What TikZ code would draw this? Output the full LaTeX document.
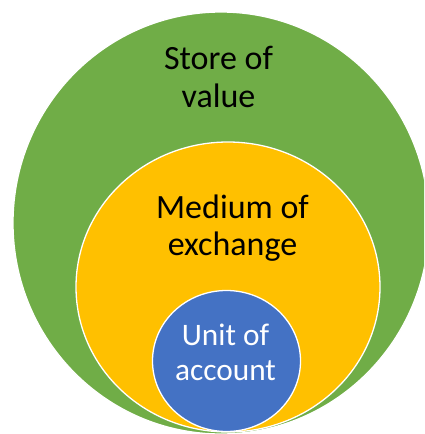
\documentclass[tikz,border=0pt]{standalone}
\usepackage{fontspec}
\setmainfont{Carlito}
\usetikzlibrary{shapes.geometric}
\definecolor{storegreen}{HTML}{70AD47}
\definecolor{mediumgold}{HTML}{FFC000}
\definecolor{unitblue}{HTML}{4472C4}
\begin{document}
\begin{tikzpicture}[x=1pt,y=-1pt,
  ring/.style={ellipse, draw=white, line width=1.3pt, inner sep=0pt},
  ringlabel/.style={align=center, anchor=base, inner sep=0pt}]
\useasboundingbox (0,0) rectangle (424,434);
\clip (0,0) rectangle (424,434);
% nested money functions
\node[ring, fill=storegreen, minimum width=416pt, minimum height=422pt] (store) at (221,223) {};
\node[ring, fill=mediumgold, minimum width=304pt, minimum height=290pt] (medium) at (228,287) {};
\node[ring, fill=unitblue, minimum width=148pt, minimum height=141pt] (unit) at (226.5,361) {};
% labels, placed by the baseline of their second line
\node[ringlabel, font=\fontsize{34}{38}\selectfont] (storelbl) at (218.5,107) {Store of\\value};
\node[ringlabel, font=\fontsize{34}{37}\selectfont] (mediumlbl) at (232.5,255) {Medium of\\exchange};
\node[ringlabel, font=\fontsize{31.3}{35}\selectfont, text=white] (unitlbl) at (225.5,380) {Unit of\\account};
\end{tikzpicture}
\end{document}
